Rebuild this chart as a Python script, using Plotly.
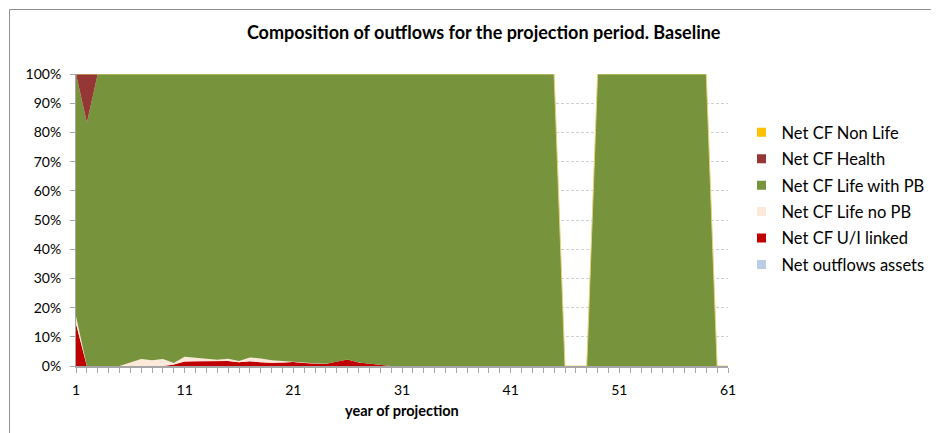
import plotly.graph_objects as go

years = list(range(1, 62))

# percentage shares (each year sums to 100, or 0 when empty)
ui_linked = [14.5, 0, 0, 0, 0, 0, 0, 0, 0, 0.5,
             1.5, 1.6, 1.7, 1.7, 1.7, 1.3, 1.6, 1.3, 1.1, 1.2,
             1.4, 1.0, 0.8, 0.7, 1.6, 2.2, 1.2, 0.8, 0.2, 0,
             0, 0, 0, 0, 0, 0, 0, 0, 0, 0,
             0, 0, 0, 0, 0, 0, 0, 0, 0, 0,
             0, 0, 0, 0, 0, 0, 0, 0, 0, 0, 0]
life_no_pb = [2.5, 0, 0, 0, 0, 1.2, 2.4, 2.0, 2.4, 0.5,
              1.7, 1.2, 0.8, 0.4, 0.8, 0.4, 1.3, 1.3, 0.9, 0.5,
              0.2, 0.2, 0.1, 0.1, 0, 0, 0, 0, 0, 0,
              0, 0, 0, 0, 0, 0, 0, 0, 0, 0,
              0, 0, 0, 0, 0, 0, 0, 0, 0, 0,
              0, 0, 0, 0, 0, 0, 0, 0, 0, 0, 0]
health = [0, 16.7] + [0] * 59
non_life = [0] * 61
outflows_assets = [0] * 61
empty_years = [46, 47, 48, 60, 61]
life_with_pb = [0 if y in empty_years else round(100 - u - n - h - nl - oa, 2)
                for y, u, n, h, nl, oa in zip(years, ui_linked, life_no_pb, health,
                                              non_life, outflows_assets)]

y_ticks = list(range(0, 101, 10))
y_labels = [f"{v}%" for v in y_ticks]
x_ticks = [1, 11, 21, 31, 41, 51, 61]

series = [  # bottom to top
    ("Net outflows assets", outflows_assets, "#B9CDE5"),
    ("Net CF U/I linked", ui_linked, "#C00000"),
    ("Net CF Life no PB", life_no_pb, "#FDE9D9"),
    ("Net CF Life with PB", life_with_pb, "#77933C"),
    ("Net CF Health", health, "#953735"),
    ("Net CF Non Life", non_life, "#FFC000"),
]

FONT = "Lato"
fig = go.Figure()
for name, vals, col in series:
    edge = name == "Net CF Non Life"
    fig.add_trace(go.Scatter(
        x=years, y=vals, name=name, stackgroup="one", mode="lines",
        line=dict(width=1 if edge else 0, color="#E6D27A" if edge else col),
        fillcolor=col, showlegend=False, hoverinfo="skip"))

for i, (name, vals, col) in enumerate(reversed(series)):
    fig.add_trace(go.Scatter(
        x=[None], y=[None], name=name, mode="markers", legendgroup=f"g{i}",
        marker=dict(symbol="square", size=9, color=col)))

# reference-pixel geometry (page body has an 8px offset)
O = 8
L, R, T, B = 76, 728.5, 74, 366
W, H = 939, 433
pw, ph = R - L, B - T

def px(x):
    return (x - L) / pw

def py(y):
    return (B - y) / ph

fig.update_layout(
    width=W - O, height=H - O,
    margin=dict(l=L - O, r=W - R, t=T - O, b=H - B, pad=0, autoexpand=False),
    paper_bgcolor="white", plot_bgcolor="white",
    font=dict(family=FONT, size=14, color="#000000"),
    title=dict(text="<b>Composition of outflows for the projection period. Baseline</b>",
               x=px(484), xref="paper", xanchor="center",
               y=1 - (33 - O) / (H - O), yref="container", yanchor="middle",
               font=dict(family=FONT, size=18, color="#000000")),
    legend=dict(x=px(742), y=py(115), xanchor="left", yanchor="top",
                font=dict(family=FONT, size=16.5), tracegroupgap=2,
                traceorder="grouped", itemwidth=30, bgcolor="rgba(0,0,0,0)"),
    xaxis=dict(range=[1, 61], tickvals=x_ticks, ticktext=[str(v) for v in x_ticks],
               showgrid=False, zeroline=False, showline=True,
               linecolor="#A6A6A6", linewidth=1.5,
               ticks="outside", ticklen=5, tickcolor="#A6A6A6",
               ticklabelstandoff=5,
               minor=dict(dtick=1, tick0=1, ticks="outside", ticklen=5,
                          tickcolor="#A6A6A6"),
               tickfont=dict(size=14)),
    yaxis=dict(range=[0, 100], tickvals=y_ticks, ticktext=y_labels,
               showgrid=True, gridcolor="#D0D0D0",
               griddash="3px,2px", gridwidth=1, zeroline=False,
               showline=True, linecolor="#A6A6A6", linewidth=1,
               ticks="outside", ticklen=5, tickcolor="#A6A6A6",
               ticklabelstandoff=6,
               tickfont=dict(size=14)),
    annotations=[dict(text="<b>year of projection</b>", x=px(402), y=py(410),
                      xref="paper", yref="paper", showarrow=False,
                      xanchor="center", yanchor="middle",
                      font=dict(family=FONT, size=14.5))],
    shapes=[dict(type="rect", xref="paper", yref="paper",
                 x0=px(9.5), x1=px(960), y0=py(460), y1=py(9.5),
                 line=dict(color="#8C8C8C", width=1), layer="below")],
)

fig.write_html("out.html")
